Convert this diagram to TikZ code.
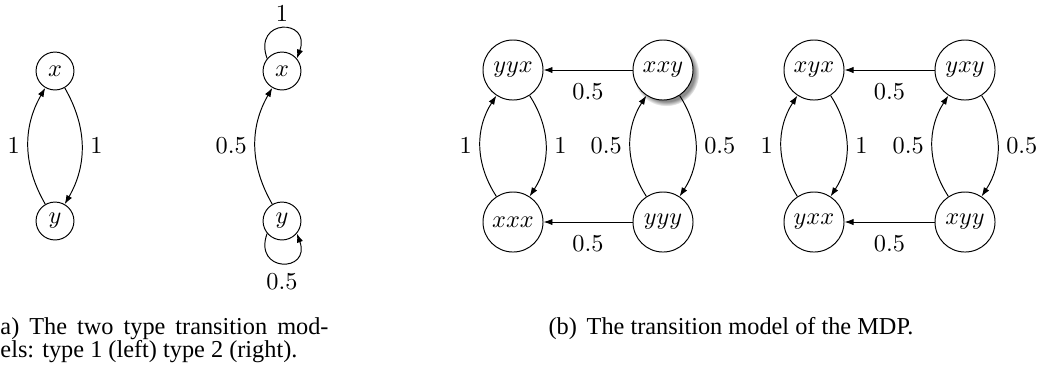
\documentclass[tikz,border=0pt]{standalone}
\usepackage{fontspec}
\newfontfamily\capfont{Liberation Serif}
\usetikzlibrary{arrows.meta,shadows}
\begin{document}
\begin{tikzpicture}[x=0.4115pt,y=0.4115pt,
  >={Latex[length=3.7pt,width=2.6pt]},
  sa/.style={circle,draw,fill=white,minimum size=15.6pt,inner sep=0pt},
  sb/.style={circle,draw,fill=white,minimum size=24.7pt,inner sep=0pt},
  lab/.style={inner sep=3.33pt},
  captext/.style={inner sep=0pt,font=\capfont}]
\useasboundingbox (0,0) rectangle (1037,-372);
% (a) type 1
\node[sa] (xa) at (55,-71) {$x$};
\node[sa] (ya) at (55,-221) {$y$};
\draw[->] (ya) to[bend left=30] node[lab,left] {$1$} (xa);
\draw[->] (xa) to[bend left=30] node[lab,right] {$1$} (ya);
% (a) type 2
\node[sa] (xb) at (282,-71) {$x$};
\node[sa] (yb) at (282,-221) {$y$};
\draw[->] (yb) to[bend left=30] node[lab,left] {$0.5$} (xb);
\draw[->] (xb.140) .. controls +(110:43) and +(70:43) .. (xb.40)
  node[pos=0.5,above,inner sep=2.5pt] {$1$};
\draw[->] (yb.220) .. controls +(250:42) and +(290:42) .. (yb.320)
  node[pos=0.5,below,inner sep=4.4pt] {$0.5$};
% (b) first component
\node[sb] (yyx) at (513,-70) {$yyx$};
\node[sb,circular drop shadow={shadow xshift=1.2pt,shadow yshift=-1.2pt,fill=black!45,opacity=1}] (xxy) at (663,-70) {$xxy$};
\node[sb] (xxx) at (513,-222) {$xxx$};
\node[sb] (yyy) at (663,-222) {$yyy$};
\draw[->] (xxy) -- node[below=2pt] {$0.5$} (yyx);
\draw[->] (yyy) -- node[below=2pt] {$0.5$} (xxx);
\draw[->] (xxx) to[bend left=33] node[lab,left] {$1$} (yyx);
\draw[->] (yyx) to[bend left=33] node[lab,right] {$1$} (xxx);
\draw[->] (yyy) to[bend left=33] node[lab,left] {$0.5$} (xxy);
\draw[->] (xxy) to[bend left=33] node[lab,right] {$0.5$} (yyy);
% (b) second component
\node[sb] (xyx) at (814,-70) {$xyx$};
\node[sb] (yxy) at (965,-70) {$yxy$};
\node[sb] (yxx) at (814,-222) {$yxx$};
\node[sb] (xyy) at (965,-222) {$xyy$};
\draw[->] (yxy) -- node[below=2pt] {$0.5$} (xyx);
\draw[->] (xyy) -- node[below=2pt] {$0.5$} (yxx);
\draw[->] (yxx) to[bend left=33] node[lab,left] {$1$} (xyx);
\draw[->] (xyx) to[bend left=33] node[lab,right] {$1$} (yxx);
\draw[->] (xyy) to[bend left=33] node[lab,left] {$0.5$} (yxy);
\draw[->] (yxy) to[bend left=33] node[lab,right] {$0.5$} (xyy);
% captions
\node[captext,anchor=base west] (capa1) at (0,-334) {\makebox[135pt][s]{a) The two type transition mod-}};
\node[captext,anchor=base west] (capa2) at (0,-357) {els: type 1 (left) type 2 (right).};
\node[captext,anchor=base] (capb) at (731,-334) {(b)\hskip4pt The transition model of the MDP.};
\end{tikzpicture}
\end{document}
